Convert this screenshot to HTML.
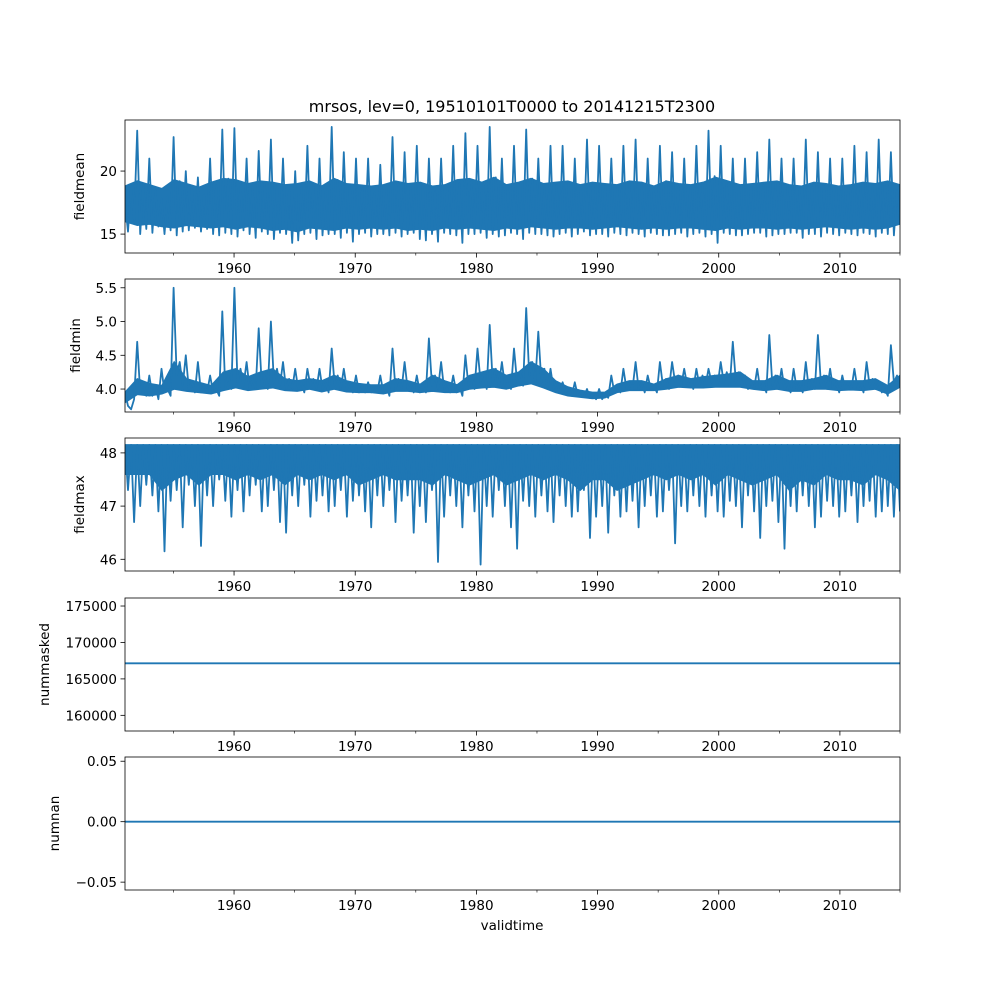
<!DOCTYPE html>
<html><head><meta charset="utf-8"><style>
body{margin:0;background:#fff;font-family:"DejaVu Sans","Liberation Sans",sans-serif}
svg text{font-family:"DejaVu Sans","Liberation Sans",sans-serif;fill:#000}
</style></head><body>
<svg id="fig" width="1000" height="1000" viewBox="0 0 1000 1000" xmlns="http://www.w3.org/2000/svg">
<rect width="1000" height="1000" fill="#fff"/>
<text x="512" y="112" font-size="16" text-anchor="middle">mrsos, lev=0, 19510101T0000 to 20141215T2300</text>
</svg>
<script>
const xTicks=[1960,1970,1980,1990,2000,2010];
const xMinor=[1955,1965,1975,1985,1995,2005,2015];
const fieldmean=[17.5,15.2,18.8,16.0,
23.2,15.0,19.0,15.4, 21.0,15.1,18.5,15.6, 17.8,15.0,18.0,15.3, 22.7,14.9,19.2,15.2, 20.0,15.3,18.7,15.5,
19.5,15.2,18.2,15.4, 21.0,15.0,18.9,14.9, 23.3,15.1,19.4,15.0, 23.4,14.8,19.0,15.3, 21.0,15.0,18.6,14.7,
21.6,15.2,19.1,15.0, 22.5,14.6,18.8,15.1, 21.0,15.0,18.5,14.3, 20.0,14.5,18.7,15.0, 22.0,15.1,19.0,14.6,
21.0,14.9,18.4,15.0, 23.5,15.0,19.3,14.7, 21.5,15.1,18.8,14.4, 21.0,15.0,18.6,15.1, 21.0,14.8,18.3,15.0,
20.5,15.0,18.6,14.9, 22.7,15.1,19.0,14.8, 21.5,15.0,18.7,15.1, 22.0,14.6,18.9,14.5, 21.0,15.0,18.4,14.4,
21.0,15.1,18.6,15.0, 22.0,14.9,19.0,14.3, 23.0,15.0,19.2,15.0, 22.0,15.1,18.8,14.7, 23.5,15.0,19.5,14.8,
21.0,14.9,18.6,15.1, 22.0,15.0,19.0,14.6, 23.3,15.1,19.4,15.0, 21.0,15.0,18.7,14.9, 22.0,14.8,18.9,15.0,
22.0,15.1,19.1,14.8, 21.0,15.0,18.6,15.2, 22.5,14.9,19.0,15.0, 22.0,15.0,18.8,14.8, 21.0,15.1,18.7,15.0,
22.0,14.9,19.1,15.1, 22.5,15.0,19.0,14.8, 21.0,15.1,18.6,15.0, 22.0,14.9,19.2,14.9, 21.5,15.0,18.8,15.1,
21.0,14.8,18.7,15.0, 22.0,15.1,19.0,14.8, 23.2,15.0,19.6,14.3, 22.0,15.1,19.0,15.0, 21.0,14.9,18.7,14.9,
21.0,15.0,18.8,15.1, 21.5,15.1,18.9,14.8, 22.5,14.9,19.1,15.0, 21.0,15.0,18.7,15.1, 21.0,15.1,18.6,14.7,
22.5,15.0,19.0,15.0, 21.5,14.8,18.8,15.1, 21.0,15.0,18.6,14.9, 21.0,15.1,18.7,15.0, 22.0,14.9,19.0,15.1,
21.5,15.0,18.8,14.8, 22.5,15.1,19.1,15.0, 21.5,14.9,18.5,16.0];
const fieldmin=[3.95,3.75,3.7,3.85,
4.7,3.95,4.1,3.9, 4.2,3.9,4.05,3.85, 4.3,3.95,4.0,3.9, 5.5,4.2,4.4,4.05, 4.5,4.0,4.1,3.95,
4.4,3.95,4.05,3.95, 4.2,3.95,4.0,3.9, 5.15,4.0,4.2,4.0, 5.5,4.1,4.3,4.05, 4.4,4.0,4.15,4.0,
4.9,4.05,4.2,4.0, 5.0,4.1,4.3,4.05, 4.4,4.0,4.15,4.0, 4.3,4.0,4.1,3.95, 4.3,4.05,4.15,4.0,
4.3,4.0,4.1,3.95, 4.6,4.05,4.2,4.0, 4.3,4.0,4.1,3.95, 4.2,3.95,4.05,3.95, 4.1,3.95,4.05,3.95,
4.2,3.95,4.05,3.9, 4.6,4.0,4.15,4.0, 4.4,4.0,4.1,3.95, 4.2,3.95,4.05,3.95, 4.75,4.05,4.2,4.0,
4.4,4.0,4.1,3.95, 4.2,3.95,4.05,3.9, 4.5,4.05,4.2,4.0, 4.6,4.1,4.25,4.0, 4.95,4.1,4.3,4.05,
4.4,4.05,4.2,4.0, 4.6,4.1,4.25,4.05, 5.2,4.2,4.4,4.1, 4.85,4.1,4.3,4.0, 4.3,4.0,4.1,3.95,
4.1,3.95,4.0,3.9, 4.1,3.9,3.95,3.88, 4.0,3.87,3.92,3.85, 4.0,3.85,3.92,3.87, 4.2,3.95,4.05,3.95,
4.3,4.0,4.1,4.0, 4.4,4.0,4.1,3.95, 4.2,4.0,4.05,3.95, 4.4,4.05,4.15,4.0, 4.4,4.1,4.2,4.05,
4.3,4.05,4.15,4.0, 4.3,4.05,4.2,4.05, 4.3,4.1,4.2,4.05, 4.4,4.1,4.25,4.05, 4.7,4.1,4.25,4.05,
4.2,4.0,4.1,4.0, 4.3,4.0,4.1,3.95, 4.8,4.05,4.2,4.0, 4.3,4.0,4.1,3.95, 4.3,4.0,4.1,3.95,
4.4,4.0,4.15,4.0, 4.8,4.05,4.2,4.0, 4.3,4.0,4.1,3.95, 4.2,4.0,4.1,4.0, 4.3,4.0,4.1,3.95,
4.4,4.05,4.15,4.0, 4.1,3.95,4.0,3.9, 4.65,4.1,4.2,4.05];
const fieldmax=[48.15,47.3,48.15,46.7,
48.15,47.0,48.15,47.4, 48.15,47.2,48.15,46.9, 48.15,46.15,48.15,47.1, 48.15,47.3,48.15,46.6, 48.15,47.4,48.15,47.0,
48.15,46.25,48.15,47.2, 48.15,47.0,48.15,47.5, 48.15,47.1,48.15,46.8, 48.15,47.3,48.15,46.9, 48.15,47.2,48.15,47.4,
48.15,46.9,48.15,47.0, 48.15,47.3,48.15,46.7, 48.15,46.5,48.15,47.2, 48.15,47.0,48.15,47.4, 48.15,46.8,48.15,47.1,
48.15,47.2,48.15,46.9, 48.15,47.0,48.15,47.3, 48.15,46.8,48.15,47.1, 48.15,47.2,48.15,46.9, 48.15,46.6,48.15,47.2,
48.15,47.0,48.15,47.3, 48.15,46.7,48.15,47.1, 48.15,47.2,48.15,46.5, 48.15,47.0,48.15,46.7, 48.15,47.3,48.15,45.95,
48.15,46.8,48.15,47.2, 48.15,47.0,48.15,46.6, 48.15,47.2,48.15,46.9, 48.15,45.9,48.15,47.0, 48.15,46.8,48.15,47.3,
48.15,47.0,48.15,46.6, 48.15,46.2,48.15,47.1, 48.15,47.0,48.15,46.8, 48.15,47.2,48.15,46.9, 48.15,46.7,48.15,47.2,
48.15,47.0,48.15,46.8, 48.15,46.9,48.15,47.3, 48.15,46.4,48.15,46.8, 48.15,47.0,48.15,46.5, 48.15,47.2,48.15,46.8,
48.15,46.9,48.15,47.1, 48.15,46.6,48.15,47.0, 48.15,47.2,48.15,46.8, 48.15,46.9,48.15,47.3, 48.15,46.3,48.15,47.0,
48.15,46.9,48.15,47.2, 48.15,47.0,48.15,46.8, 48.15,47.2,48.15,46.9, 48.15,46.8,48.15,47.1, 48.15,47.0,48.15,46.6,
48.15,47.2,48.15,46.9, 48.15,46.4,48.15,47.0, 48.15,47.1,48.15,46.7, 48.15,46.2,48.15,47.0, 48.15,46.9,48.15,47.2,
48.15,47.0,48.15,46.6, 48.15,46.8,48.15,47.1, 48.15,47.0,48.15,46.8, 48.15,46.9,48.15,47.2, 48.15,46.7,48.15,47.0,
48.15,47.1,48.15,46.8, 48.15,46.9,48.15,47.0, 48.15,46.8,48.15,46.9];
// dense-band envelope (one value per year) where the hourly trace is solid
const meanBandLo=[16.0,15.7,15.8,15.6,15.5,15.7,15.6,15.5,15.6,15.4,15.6,15.5,15.3,15.4,15.2,15.5,15.4,15.3,15.5,15.4,15.5,15.4,15.5,15.3,15.4,15.3,15.5,15.4,15.5,15.4,15.3,15.5,15.4,15.6,15.5,15.4,15.5,15.5,15.4,15.5,15.6,15.5,15.4,15.5,15.4,15.5,15.5,15.4,15.3,15.5,15.4,15.5,15.5,15.4,15.5,15.4,15.5,15.6,15.5,15.4,15.5,15.4,15.5,15.8];
const meanBandHi=[18.8,19.2,18.9,18.6,19.3,19.0,18.7,19.1,19.4,19.3,19.0,19.2,19.1,18.9,19.0,19.2,18.8,19.4,19.0,18.9,18.8,18.9,19.2,19.0,19.1,18.8,18.9,19.3,19.4,19.1,19.5,18.9,19.1,19.4,19.0,19.1,19.2,18.9,19.1,19.0,18.9,19.2,19.1,18.8,19.2,19.0,18.9,19.1,19.5,19.2,18.9,19.0,19.1,19.2,18.9,18.8,19.1,19.0,18.8,18.9,19.1,19.0,19.2,18.9];
const minBandLo=[3.8,3.92,3.9,3.93,4.0,3.97,3.95,3.93,3.98,4.02,3.98,4.0,4.02,3.98,3.97,4.0,3.96,4.0,3.96,3.95,3.95,3.93,3.97,3.97,3.95,3.97,3.95,3.95,4.0,4.02,4.03,4.0,4.05,4.08,4.02,3.95,3.9,3.88,3.86,3.87,3.95,3.98,3.98,3.98,4.0,4.03,4.02,4.02,4.03,4.03,4.03,4.0,3.98,4.0,3.97,3.97,4.0,4.0,3.98,3.99,3.98,4.0,3.93,4.03];
const minBandHi=[3.95,4.15,4.08,4.05,4.4,4.15,4.1,4.05,4.25,4.3,4.18,4.25,4.3,4.15,4.12,4.15,4.12,4.2,4.12,4.08,4.06,4.06,4.15,4.12,4.07,4.2,4.12,4.06,4.2,4.25,4.3,4.2,4.25,4.4,4.3,4.12,4.03,3.98,3.95,3.95,4.07,4.12,4.12,4.07,4.15,4.2,4.15,4.18,4.2,4.22,4.25,4.12,4.12,4.2,4.12,4.12,4.15,4.2,4.12,4.12,4.12,4.15,4.05,4.2];
const maxBandLo=[47.6,47.6,47.6,47.3,47.5,47.6,47.4,47.6,47.6,47.5,47.6,47.5,47.6,47.4,47.6,47.5,47.6,47.5,47.6,47.4,47.5,47.6,47.5,47.5,47.5,47.4,47.6,47.5,47.4,47.5,47.6,47.4,47.5,47.6,47.5,47.6,47.5,47.3,47.5,47.5,47.3,47.4,47.5,47.6,47.5,47.6,47.5,47.6,47.4,47.6,47.5,47.4,47.5,47.6,47.3,47.5,47.4,47.6,47.5,47.5,47.4,47.6,47.5,47.3];
const bandTop=48.15;
const nummasked=[167140,167140];
const numnan=[0,0];
const panels=[
 {name:'fieldmean',data:fieldmean,lo:meanBandLo,hi:meanBandHi,top:120,ymin:13.5,ymax:24.05,ticks:[15,20],labels:['15','20'],lx:84},
 {name:'fieldmin',data:fieldmin,lo:minBandLo,hi:minBandHi,top:279,ymin:3.66,ymax:5.63,ticks:[4.0,4.5,5.0,5.5],labels:['4.0','4.5','5.0','5.5'],lx:80},
 {name:'fieldmax',data:fieldmax,lo:maxBandLo,hi:null,top:438,ymin:45.78,ymax:48.28,ticks:[46,47,48],labels:['46','47','48'],lx:84},
 {name:'nummasked',data:nummasked,top:598,ymin:157850,ymax:176100,ticks:[160000,165000,170000,175000],labels:['160000','165000','170000','175000'],lx:49},
 {name:'numnan',data:numnan,top:757,ymin:-0.0565,ymax:0.0535,ticks:[-0.05,0,0.05],labels:['\u22120.05','0.00','0.05'],lx:59}
];
const NS='http://www.w3.org/2000/svg';
const svg=document.getElementById('fig');
const L=125,R=900,H=133,T0=1951.0,T1=2014.96;
const xs=t=>L+(t-T0)/(T1-T0)*(R-L);
function mk(tag,attrs,parent){const e=document.createElementNS(NS,tag);for(const k in attrs)e.setAttribute(k,attrs[k]);(parent||svg).appendChild(e);return e;}
panels.forEach((p,pi)=>{
 const g=mk('g',{});
 
 
 const ys=v=>p.top+H-(v-p.ymin)/(p.ymax-p.ymin)*H;
 const cp=mk('clipPath',{id:'c'+pi},g);mk('rect',{x:L,y:p.top,width:R-L,height:H},cp);
 if(p.lo){
  const m=p.lo.length;let up='',dn='';
  for(let i=0;i<m;i++){const t=T0+i*(T1-T0)/(m-1);const hv=p.hi?p.hi[i]:bandTop;up+=(i?'L':'M')+xs(t).toFixed(1)+' '+ys(hv).toFixed(1);}
  for(let i=m-1;i>=0;i--){const t=T0+i*(T1-T0)/(m-1);dn+='L'+xs(t).toFixed(1)+' '+ys(p.lo[i]).toFixed(1);}
  const band=mk('path',{d:up+dn+'Z',fill:'#1f77b4',stroke:'#1f77b4','stroke-width':1.5,'clip-path':'url(#c'+pi+')'},g);
  
  
 }
 const n=p.data.length;
 let d='';
 p.data.forEach((v,i)=>{const t=T0+i*(T1-T0)/(n-1);d+=(i?'L':'M')+xs(t).toFixed(1)+' '+ys(v).toFixed(1);});
 const line=mk('path',{d:d,fill:'none',stroke:'#1f77b4','stroke-width':1.8,'stroke-linejoin':'round','clip-path':'url(#c'+pi+')'},g);
 
 
 const fr=mk('rect',{x:L,y:p.top,width:R-L,height:H,fill:'none',stroke:'#000','stroke-width':0.8},g);
 
 
 p.ticks.forEach((v,i)=>{
  const y=ys(v);
  mk('line',{x1:L-4.5,x2:L,y1:y,y2:y,stroke:'#000','stroke-width':0.8},g);
  const tx=mk('text',{x:L-8,y:y+5,'font-size':13.5,'text-anchor':'end'},g);
  tx.textContent=p.labels[i];
  
  
 });
 const by=p.top+H;
 xTicks.forEach(yr=>{
  const x=xs(yr);
  mk('line',{x1:x,x2:x,y1:by,y2:by+4.5,stroke:'#000','stroke-width':0.8},g);
  const tx=mk('text',{x:x,y:by+20,'font-size':13.5,'text-anchor':'middle'},g);
  tx.textContent=yr;
  
  
 });
 xMinor.forEach(v=>{
  const x=Math.min(xs(v),R);
  mk('line',{x1:x,x2:x,y1:by,y2:by+2.5,stroke:'#000','stroke-width':0.6},g);
 });
 const cy=p.top+H/2;
 const yl=mk('text',{x:p.lx,y:cy,'font-size':13.5,'text-anchor':'middle',transform:'rotate(-90 '+p.lx+' '+cy+')'},g);
 yl.textContent=p.name;
 
 
});
const xl=mk('text',{x:512,y:930,'font-size':13.5,'text-anchor':'middle'});
xl.textContent='validtime';


</script>
</body></html>
